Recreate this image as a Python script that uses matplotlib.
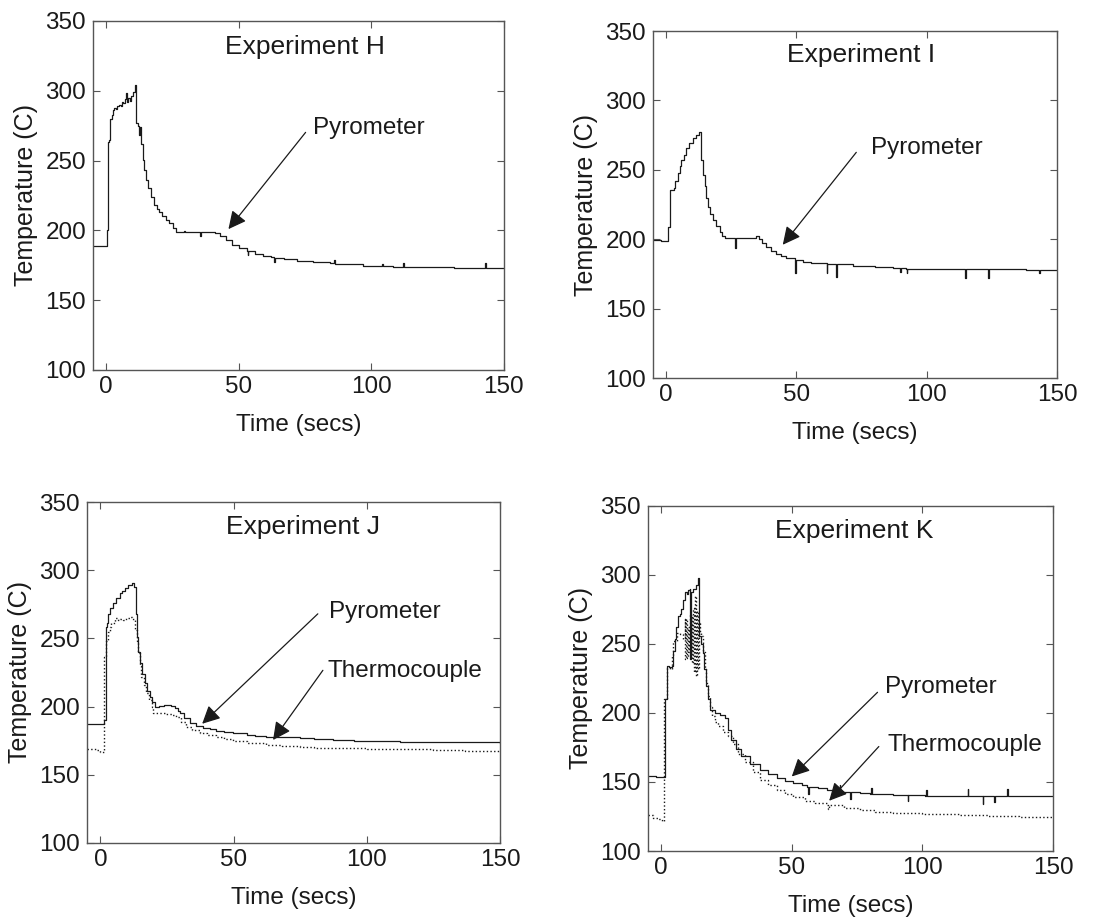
import matplotlib
matplotlib.use('Agg')
import matplotlib.pyplot as plt

plt.rcParams['font.family'] = ['Liberation Sans', 'DejaVu Sans']

# Experiment H - pyrometer (time in secs, temperature in C)
h_time = [-5, 0.4, 0.8, 1.2, 1.6, 2.0, 2.4, 3.0, 3.6, 4.2, 4.8, 5.4, 6.0, 6.5, 7.0, 7.5, 7.8, 8.4,
          9.0, 9.4, 10.0, 10.7, 11.2, 11.4, 12.0, 12.5, 12.8, 13.2, 13.75, 14.4, 15.0, 15.8, 16.8,
          18.0, 19.0, 20.0, 21.2, 22.4, 23.7, 25.0, 26.2, 28.0, 29.5, 29.8, 32.0, 35.0, 35.5, 35.8,
          38.0, 41.0, 43.0, 45.0, 47.3, 50.0, 53.0, 53.3, 53.6, 56.0, 59.0, 62.2, 63.3, 63.6, 67.0,
          72.0, 78.0, 84.5, 86.0, 86.3, 90.0, 96.9, 100.0, 104.0, 104.3, 108.0, 112.0, 112.3, 117.0,
          121.7, 126.0, 131.0, 136.0, 140.0, 143.0, 143.3, 146.5, 150]
h_pyro = [188.5, 200, 263, 265, 279.5, 283, 286.5, 288, 287, 289, 290, 289, 292, 291, 294, 298.5, 292, 295,
          293, 296, 299, 304.4, 290, 277, 275, 268, 274, 262, 250.6, 243, 236, 230, 224,
          218, 215.5, 213.5, 210, 207.5, 205, 201.5, 198.8, 198.5, 199.8, 198.5, 199, 198.5, 196, 198.8,
          198.5, 197.8, 196, 193, 189.7, 187.5, 185, 182.5, 184.9, 183.2, 181.7, 180.6, 177, 180.4, 179.5,
          178.4, 177.5, 176.5, 178.5, 176.2, 175.8, 174.8, 174.5, 176, 174.3, 174.1, 176.5, 173.8, 173.7,
          173.6, 173.5, 173.4, 173.3, 173.3, 176.5, 173.2, 173.2, 173.0]

# Experiment I - pyrometer
i_time = [-5, -2, 0.9, 1.6, 2.9, 3.6, 4.6, 5.3, 5.9, 6.8, 7.8, 9.0, 10.4, 11.5, 12.7, 13.3, 13.5, 14.1,
          14.8, 15.4, 16.1, 17.0, 18.0, 19.3, 20.6, 21.5, 22.5, 24.0, 26.5, 26.8, 29.0, 32.0, 34.6, 35.5,
          36.8, 38.5, 40.3, 42.3, 44.0, 46.2, 49.5, 49.8, 52.6, 55.5, 59.0, 61.6, 61.9, 65.4, 65.7, 71.7,
          74.4, 80.0, 87.2, 89.8, 90.1, 92.0, 92.3, 92.6, 100.0, 108.0, 114.7, 115.0, 123.6, 123.9, 130.0,
          138.0, 143.0, 143.3, 150]
i_pyro = [199.5, 198.8, 209, 235.6, 237, 242, 247.6, 253, 257, 261, 265.7, 269, 272.9, 275, 277.6, 265, 257, 246,
          238, 230, 223.5, 218, 214, 209.5, 205.5, 202.5, 200.7, 200.6, 194, 201, 201.2, 201, 202.4, 200,
          197.5, 194.7, 191.8, 189.4, 188, 186.8, 176, 185.2, 183.9, 183.2, 182.7, 175.5, 182.4, 173, 181.8, 180.8,
          180.8, 180, 179.1, 176.5, 179, 178.8, 176, 178.7, 178.4, 178.4, 172, 178.4, 172, 178.3, 178.2,
          178.1, 176, 178, 177.9]

# Experiment J - pyrometer and thermocouple
j_time_p = [-5, 1.5, 2.1, 2.5, 3.0, 3.5, 4.8, 6.0, 7.3, 8.2, 9.1, 10.4, 11.7, 12.6, 13.2, 13.6, 14.2, 14.8,
            15.7, 16.7, 17.6, 18.5, 19.4, 20.4, 22.0, 24.0, 26.5, 27.9, 29.0, 29.7, 31.5, 33.5, 36.0, 38.5,
            41.0, 43.5, 46.5, 49.7, 55.0, 58.0, 62.3, 68.0, 74.8, 80.0, 87.3, 95.0, 103.0, 112.4, 120.0,
            130.0, 140.0, 150]
j_pyro = [187, 190, 258.5, 261, 268, 272, 275.7, 279.4, 283, 285, 286.7, 289, 290.5, 288, 268, 251, 240, 231.7,
          224, 217, 211.5, 207.3, 203, 200, 200.4, 200.8, 200.3, 199, 197, 195, 191.5, 188.2, 186, 184.5,
          183.2, 182, 181, 180.4, 179.2, 178.5, 178, 177.4, 176.8, 176.2, 175.5, 175.1, 174.7, 174.3, 174,
          173.8, 173.7, 173.6]
j_time_t = [-5, -1.5, 0.0, 1.3, 1.5, 2.2, 2.9, 3.5, 4.1, 5.4, 6.5, 7.5, 8.5, 9.5, 11.0, 12.0, 12.9, 13.6,
            14.2, 14.8, 15.4, 16.3, 17.3, 18.2, 19.2, 19.8, 22.0, 24.5, 26.7, 28.4, 30.3, 32.2, 34.5, 37.2,
            40.0, 43.5, 46.5, 49.7, 55.0, 62.3, 68.0, 74.8, 80.0, 87.3, 100.0, 112.4, 125.0, 137.0, 150]
j_thermo = [168.7, 168, 167, 168.5, 236.7, 248, 255, 258, 261, 264.7, 263.5, 264.5, 263.3, 264.7, 266, 264, 256, 248,
            239, 230, 222, 215.5, 209.7, 204.5, 200, 195.5, 195.2, 194.6, 193.8, 192.5, 189, 185.2, 182.8, 180.8,
            179, 177.4, 176.2, 175, 173.5, 171.8, 170.8, 170.1, 169.8, 169.4, 169.0, 168.7, 168.2, 167.6, 167.0]

# Experiment K - pyrometer and thermocouple
k_time_p = [-5, -2, 1.5, 2.4, 3.2, 4.0, 4.6, 5.2, 5.8, 6.5, 7.2, 7.8, 8.4, 9.1, 9.8, 10.4, 11.0, 11.1, 11.3,
            12.2, 13.2, 14.2, 14.5, 15.2, 16.0, 16.6, 17.3, 18.0, 18.6, 20.5, 22.5, 24.4, 25.7, 26.9, 28.8,
            30.7, 34.0, 37.9, 41.0, 44.3, 47.5, 50.6, 54.0, 56.0, 56.3, 56.6, 60.0, 63.4, 68.0, 68.3, 68.6,
            72.0, 72.3, 72.6, 76.2, 80.0, 80.3, 80.6, 88.9, 94.0, 94.3, 94.6, 101.0, 101.3, 101.6, 108.0,
            114.4, 117.0, 117.3, 117.6, 122.7, 123.0, 123.3, 127.0, 127.3, 127.6, 132.0, 132.3, 132.6,
            140.0, 150]
k_pyro = [154.5, 153.8, 209.8, 234, 233, 234, 245, 253.5, 262, 270.4, 272, 275, 282, 287.4, 286, 289, 289.8, 239, 288,
          290, 293, 298, 256, 250, 243.8, 232, 219.5, 210, 202.5, 200.1, 198.5, 196.5, 188, 180.7, 174,
          168.6, 163, 158.9, 155.5, 152.9, 151, 149.2, 147.8, 146.5, 141, 146.5, 145.3, 144.4, 143.2, 148, 143,
          142.6, 138, 142.5, 142, 141.5, 145.5, 141.3, 140.7, 140.5, 136, 140.4, 140.2, 144.5, 140.2, 140.1,
          140, 140, 145, 140, 140, 134, 140, 140, 135.5, 140, 140, 145, 140,
          140, 140]
k_time_t = [-5, -3, -1, 0.3, 1.1, 2.2, 3.3, 4.0, 4.6, 5.9, 7.1, 8.4, 9.0, 9.3, 9.7, 10.0, 10.3, 10.6, 11.0,
            11.3, 11.6, 12.0, 12.3, 12.6, 12.9, 13.2, 13.6, 14.0, 14.4, 15.0, 15.4, 16.0, 16.7, 17.3, 18.0,
            18.6, 19.3, 20.5, 21.8, 23.7, 25.6, 27.5, 29.5, 32.0, 35.0, 37.9, 41.0, 44.3, 47.5, 50.6, 55.0,
            59.0, 63.4, 64.0, 64.3, 70.0, 76.2, 82.0, 88.9, 100.0, 114.4, 125.0, 137.0, 150]
k_thermo = [126, 124, 123, 121.5, 209.8, 232.8, 231.6, 242, 252.2, 258.3, 257, 253.5, 268, 239, 268, 240, 262, 244, 272,
            242, 270, 236, 276, 230, 285, 227, 274, 232, 266, 258, 255.8, 244, 231.6, 222, 212,
            204, 197.7, 193.5, 190.4, 186.5, 183.1, 177.5, 170, 164.5, 157.5, 151.6, 147.5, 144.4, 141.3, 138.8, 136.3,
            134.6, 133.5, 130.5, 133.2, 131.5, 129.8, 128.4, 127.4, 126.7, 126.2, 125.6, 125, 124.5]

ink = '#1a1a1a'

fig = plt.figure(figsize=(10.95, 9.24), dpi=100)
ax_h = fig.add_axes([0.0849, 0.5996, 0.3753, 0.3777])
ax_i = fig.add_axes([0.5963, 0.5909, 0.3690, 0.3755])
ax_j = fig.add_axes([0.0795, 0.0877, 0.3772, 0.3690])
ax_k = fig.add_axes([0.5918, 0.0790, 0.3700, 0.3734])


def style_axes(ax, title, tx, ty):
    ax.set_xlim(-5, 150)
    ax.set_ylim(100, 350)
    ax.set_xticks([0, 50, 100, 150])
    ax.set_yticks([100, 150, 200, 250, 300, 350])
    ax.tick_params(direction='in', top=True, right=True, length=5, width=0.8,
                   colors='#555555', labelcolor=ink, labelsize=17.5)
    ax.tick_params(axis='x', pad=4)
    ax.tick_params(axis='y', pad=5)
    for s in ax.spines.values():
        s.set_color('#555555')
        s.set_linewidth(1.0)
    ax.set_xlabel('Time (secs)', fontsize=17.5, color=ink, labelpad=12)
    ax.set_ylabel('Temperature (C)', fontsize=18, color=ink, labelpad=5)
    ax.text(tx, ty, title, fontsize=19, color=ink, ha='center', va='center')


def pointer(ax, label, tx, ty, tail, head):
    ax.text(tx, ty, label, fontsize=17.5, color=ink, ha='left', va='center')
    ax.annotate('', xy=head, xytext=tail,
                arrowprops=dict(arrowstyle='-|>', color=ink, lw=0.9,
                                mutation_scale=27, shrinkA=0, shrinkB=0))


# H
ax_h.plot(h_time, h_pyro, color=ink, lw=0.9, drawstyle='steps-post')
style_axes(ax_h, 'Experiment H', 75, 331.6)
pointer(ax_h, 'Pyrometer', 78, 273.5, (75.2, 270.2), (46.1, 200.9))

# I
ax_i.plot(i_time, i_pyro, color=ink, lw=0.9, drawstyle='steps-post')
style_axes(ax_i, 'Experiment I', 75, 332.6)
pointer(ax_i, 'Pyrometer', 78.5, 266, (73, 262.6), (44.8, 196))

# J
ax_j.plot(j_time_p, j_pyro, color=ink, lw=0.9, drawstyle='steps-post')
ax_j.plot(j_time_t, j_thermo, color=ink, lw=1.0, ls=':', drawstyle='steps-post')
style_axes(ax_j, 'Experiment J', 76, 332)
pointer(ax_j, 'Pyrometer', 85.7, 269, (81.6, 268), (38.2, 187.4))
pointer(ax_j, 'Thermocouple', 85.3, 226.4, (83.5, 226.6), (64.8, 175.5))

# K
ax_k.plot(k_time_p, k_pyro, color=ink, lw=0.9, drawstyle='steps-post')
ax_k.plot(k_time_t, k_thermo, color=ink, lw=1.0, ls=':', drawstyle='steps-post')
style_axes(ax_k, 'Experiment K', 74, 331.7)
pointer(ax_k, 'Pyrometer', 85.7, 218.6, (82.8, 215), (50, 154))
pointer(ax_k, 'Thermocouple', 86.5, 177, (83.3, 175.7), (64.3, 136.4))

fig.savefig('out.png', dpi=100)
